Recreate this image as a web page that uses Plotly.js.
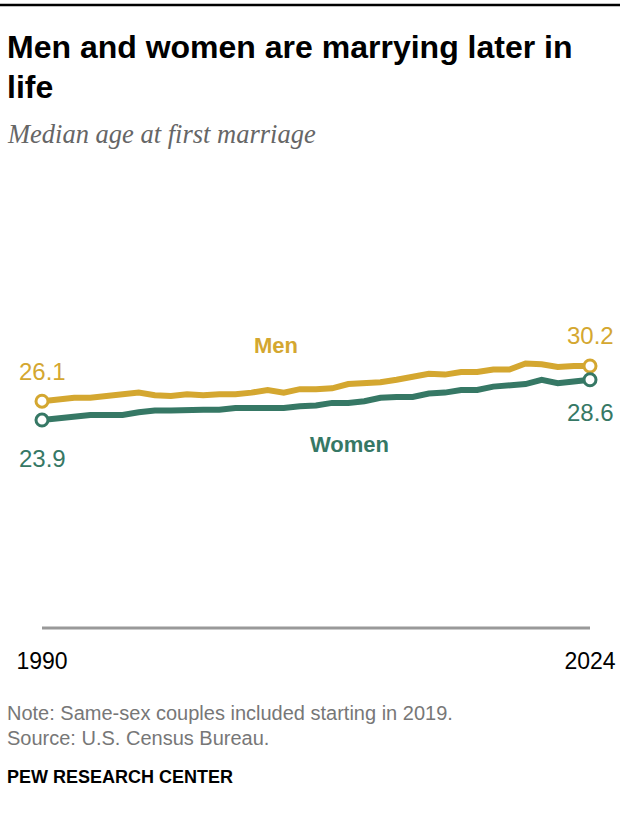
<!DOCTYPE html>
<html><head><meta charset="utf-8">
<script src="https://cdn.plot.ly/plotly-3.0.1.min.js"></script>
<style>html,body{margin:0;padding:0;background:#fff}#chart{width:620px;height:828px}</style>
</head><body><div id="chart"></div>
<script>
const years = [1990,1991,1992,1993,1994,1995,1996,1997,1998,1999,2000,2001,2002,2003,2004,2005,2006,2007,2008,2009,2010,2011,2012,2013,2014,2015,2016,2017,2018,2019,2020,2021,2022,2023,2024];
const men   = [26.1,26.3,26.5,26.5,26.7,26.9,27.1,26.8,26.7,26.9,26.8,26.9,26.9,27.1,27.4,27.1,27.5,27.5,27.6,28.1,28.2,28.3,28.6,29.0,29.3,29.2,29.5,29.5,29.8,29.8,30.5,30.4,30.1,30.2,30.2];
const women = [23.9,24.1,24.4,24.5,24.5,24.5,24.8,25.0,25.0,25.1,25.1,25.1,25.3,25.3,25.3,25.3,25.5,25.6,25.9,25.9,26.1,26.5,26.6,26.6,27.0,27.1,27.4,27.4,27.8,28.0,28.1,28.6,28.2,28.4,28.6];
const seriesNames = ["Men","Women"];
const tickYears = [1990, 2024];

const GOLD = "#d4a730", GREEN = "#367865";
const W = 620, H = 828;
const M = {l:42, r:30, t:282, b:200};
const PW = W - M.l - M.r, PH = H - M.t - M.b;
const px = x => (x - M.l) / PW;
const py = y => (H - M.b - y) / PH;

const last = years.length - 1;
const traces = [
  {x: years, y: men, mode: "lines", line: {color: GOLD, width: 6}, hoverinfo: "skip", cliponaxis: false},
  {x: years, y: women, mode: "lines", line: {color: GREEN, width: 6}, hoverinfo: "skip", cliponaxis: false},
  {x: [years[0], years[last]], y: [men[0], men[last]], mode: "markers", cliponaxis: false,
   marker: {size: 12, color: "#fff", line: {color: GOLD, width: 3}}, hoverinfo: "skip"},
  {x: [years[0], years[last]], y: [women[0], women[last]], mode: "markers", cliponaxis: false,
   marker: {size: 12, color: "#fff", line: {color: GREEN, width: 3}}, hoverinfo: "skip"}
];

const numFont = (c) => ({family: "Liberation Sans, Arial, sans-serif", size: 24, color: c});
const labFont = (c) => ({family: "Liberation Sans, Arial, sans-serif", size: 22, color: c});
const ann = [
  {xref:"paper", yref:"paper", x: px(5), y: py(47), xanchor:"left", yanchor:"middle", showarrow:false, align:"left",
   text:"<b>Men and women are marrying later in</b>", font:{family:"Liberation Sans Narrow, Arial Narrow, sans-serif", size:32, color:"#000"}},
  {xref:"paper", yref:"paper", x: px(5), y: py(87), xanchor:"left", yanchor:"middle", showarrow:false, align:"left",
   text:"<b>life</b>", font:{family:"Liberation Sans Narrow, Arial Narrow, sans-serif", size:32, color:"#000"}},
  {xref:"paper", yref:"paper", x: px(5), y: py(134), xanchor:"left", yanchor:"middle", showarrow:false,
   text:"<i>Median age at first marriage</i>", font:{family:"Liberation Serif, Georgia, serif", size:26.5, color:"#666"}},
  {x: years[0], y: men[0], text: men[0].toFixed(1), showarrow:false, yshift: 30, font: numFont(GOLD)},
  {x: years[last], y: men[last], text: men[last].toFixed(1), showarrow:false, yshift: 31, font: numFont(GOLD)},
  {x: years[0], y: women[0], text: women[0].toFixed(1), showarrow:false, yshift: -38, font: numFont(GREEN)},
  {x: years[last], y: women[last], text: women[last].toFixed(1), showarrow:false, yshift: -33, font: numFont(GREEN)},
  {x: 2004.5, y: 32.6, text: "<b>" + seriesNames[0] + "</b>", showarrow:false, font: labFont(GOLD)},
  {x: 2009.1, y: 21.0, text: "<b>" + seriesNames[1] + "</b>", showarrow:false, font: labFont(GREEN)},
  {xref:"paper", yref:"paper", x: px(5), y: py(713), xanchor:"left", yanchor:"middle", showarrow:false,
   text:"Note: Same-sex couples included starting in 2019.", font:{family:"Liberation Sans, Arial, sans-serif", size:20, color:"#777"}},
  {xref:"paper", yref:"paper", x: px(5), y: py(738), xanchor:"left", yanchor:"middle", showarrow:false,
   text:"Source: U.S. Census Bureau.", font:{family:"Liberation Sans, Arial, sans-serif", size:20, color:"#777"}},
  {xref:"paper", yref:"paper", x: px(5), y: py(777), xanchor:"left", yanchor:"middle", showarrow:false,
   text:"<b>PEW RESEARCH CENTER</b>", font:{family:"Liberation Sans Narrow, Arial Narrow, sans-serif", size:18, color:"#000"}}
];

const layout = {
  width: W, height: H, margin: M, paper_bgcolor: "#fff", plot_bgcolor: "#fff", showlegend: false,
  xaxis: {range: [1990, 2024], showgrid: false, zeroline: false, showline: false,
          tickvals: tickYears, ticktext: tickYears.map(String), ticks: "outside", ticklen: 12, tickcolor: "rgba(0,0,0,0)",
          tickfont: {family: "Liberation Sans, Arial, sans-serif", size: 23, color: "#000"}, fixedrange: true},
  yaxis: {range: [-0.35, 40], showgrid: false, zeroline: false, showline: false, showticklabels: false, ticks: "", fixedrange: true},
  shapes: [
    {type:"line", xref:"paper", yref:"paper", x0: px(0), x1: px(620), y0: py(5), y1: py(5), line:{color:"#000", width:2.5}},
    {type:"line", xref:"x", yref:"paper", x0: years[0], x1: years[last], y0: 0, y1: 0, line:{color:"#999", width:3}}
  ],
  annotations: ann
};
Plotly.newPlot("chart", traces, layout, {displayModeBar: false, staticPlot: true});
</script></body></html>
